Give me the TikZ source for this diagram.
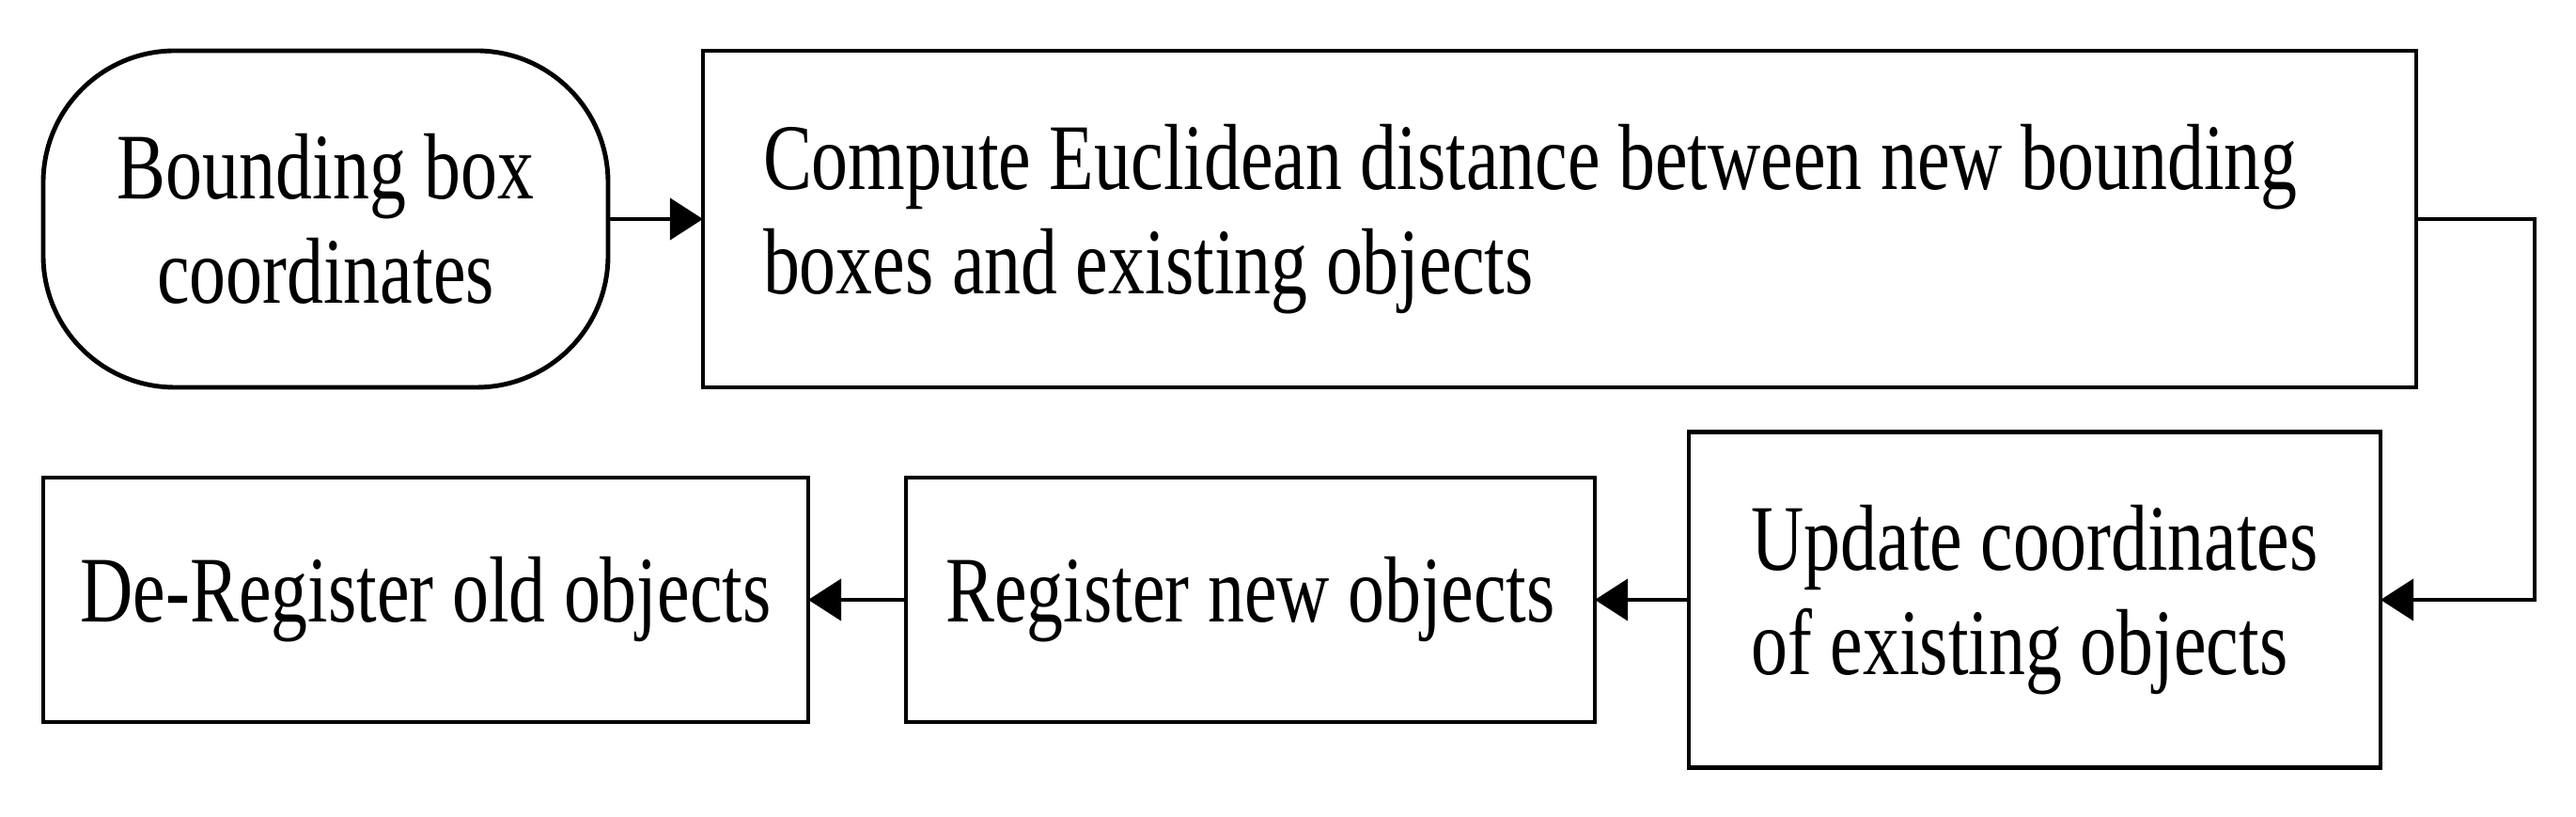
\documentclass[tikz,border=0pt]{standalone}
\usepackage{fontspec}
\setmainfont{Liberation Serif}[FakeStretch=0.78]
\usetikzlibrary{arrows.meta}
\hyphenpenalty=10000
\begin{document}
\begin{tikzpicture}[bx/.style={draw=black,line width=1.4pt,inner sep=0pt,outer sep=0pt,font=\fontsize{28.4}{31.6}\selectfont},
  rd/.style={bx,rounded corners=1.4cm},
  ar/.style={line width=1.4pt,-{Triangle[length=10pt,width=12.5pt]}}]
\useasboundingbox (0,0) rectangle (27.41,8.69);
\node[rd,minimum width=6.01cm,minimum height=3.58cm,align=center] (bb) at (3.465,6.36) {Bounding box\\coordinates};
\node[bx,minimum height=3.58cm,inner xsep=0.64cm,text width=16.95cm,align=flush left] (ed) at (16.595,6.36) {Compute Euclidean distance between new bounding\\boxes and existing objects};
\node[bx,minimum width=7.36cm,minimum height=3.57cm,align=left] (up) at (21.65,2.31) {Update coordinates\\of existing objects};
\node[bx,minimum width=7.33cm,minimum height=2.6cm] (rg) at (13.305,2.31) {Register new objects};
\node[bx,minimum width=8.14cm,minimum height=2.6cm] (dr) at (4.53,2.31) {De-Register old objects};
\coordinate (rt) at (26.97,6.36);
\draw[ar] (bb) -- (ed);
\draw[ar] (ed.east) -- (rt) |- (up.east);
\draw[ar] (up) -- (rg);
\draw[ar] (rg) -- (dr);
\end{tikzpicture}
\end{document}
